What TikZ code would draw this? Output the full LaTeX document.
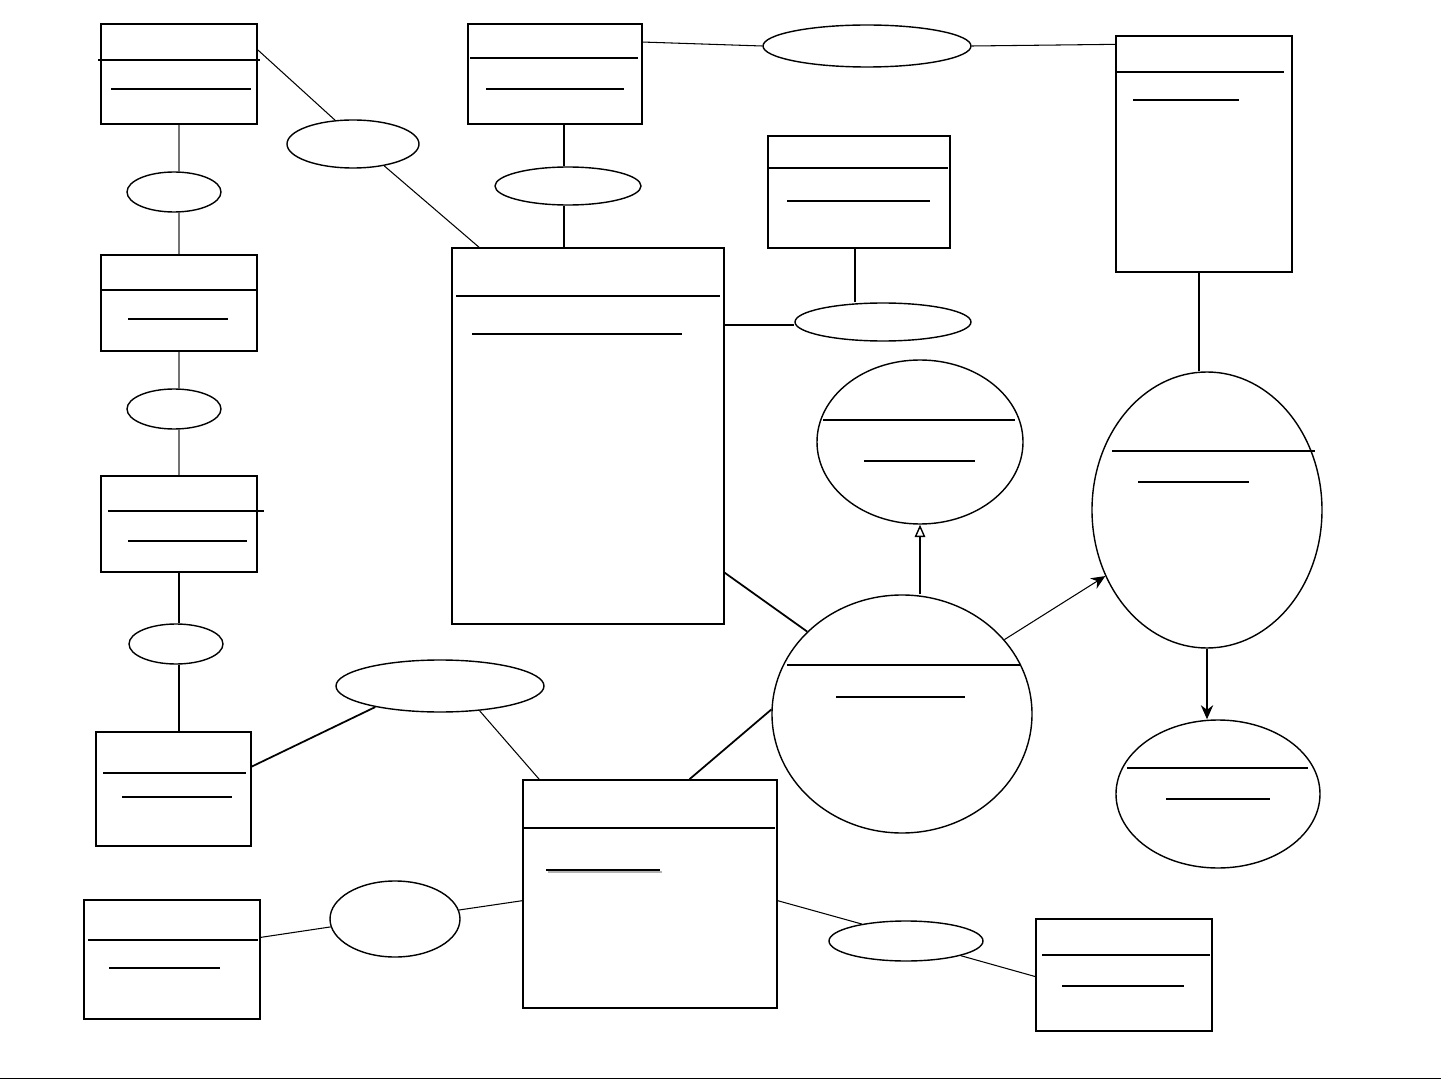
\documentclass[tikz,border=0pt]{standalone}
\usetikzlibrary{shapes.geometric,arrows.meta}

\tikzset{
  ent/.style 2 args={draw, line width=0.9pt, inner sep=0pt,
    minimum width=#1*0.02cm, minimum height=#2*0.02cm},
  rel/.style 2 args={draw, ellipse, line width=0.8pt, inner sep=0pt,
    minimum width=#1*0.02cm, minimum height=#2*0.02cm},
  sepline/.style={line width=1pt},
  keyline/.style={line width=0.7pt},
  link/.style={line width=0.6pt},
  greylink/.style={line width=0.6pt, draw=black!55},
  boldlink/.style={line width=1pt},
  isa/.style={line width=0.6pt, -{Stealth[length=8pt,width=7pt]}}
}

\begin{document}
\begin{tikzpicture}[x=0.02cm,y=-0.02cm]
\useasboundingbox (0,0) rectangle (1441,1081);

% entity boxes
\node[ent={156}{100}] (b1) at (179,74) {};
\node[ent={174}{100}] (b2) at (555,74) {};
\node[ent={182}{112}] (b3) at (859,192) {};
\node[ent={176}{236}] (b4) at (1204,154) {};
\node[ent={156}{96}] (b5) at (179,303) {};
\node[ent={272}{376}] (b6) at (588,436) {};
\node[ent={156}{96}] (b7) at (179,524) {};
\node[ent={155}{114}] (b8) at (173.5,789) {};
\node[ent={176}{119}] (b9) at (172,959.5) {};
\node[ent={254}{228}] (b10) at (650,894) {};
\node[ent={176}{112}] (b11) at (1124,975) {};

% relationship ellipses
\node[rel={94}{40}] (e1) at (174,192) {};
\node[rel={132}{48}] (e2) at (353,144) {};
\node[rel={146}{38}] (e3) at (568,186) {};
\node[rel={208}{42}] (e4) at (867,46) {};
\node[rel={176}{38}] (e5) at (883,322) {};
\node[rel={94}{40}] (e6) at (174,409) {};
\node[rel={94}{40}] (e7) at (176,644) {};
\node[rel={208}{52}] (e8) at (440,686) {};
\node[rel={130}{76}] (e9) at (395,919) {};
\node[rel={154}{40}] (e10) at (906,941) {};

% round entities
\node[rel={206}{164}] (c1) at (920,442) {};
\node[rel={260}{238}] (c2) at (902,714) {};
\node[rel={230}{276}] (c3) at (1207,510) {};
\node[rel={204}{148}] (c4) at (1218,794) {};

% header and key lines
\draw[sepline] (98,60) -- (260,60); % b1
\draw[keyline] (111,89) -- (251,89);
\draw[sepline] (470,58) -- (638,58); % b2
\draw[keyline] (486,89) -- (624,89);
\draw[sepline] (768,168) -- (948,168); % b3
\draw[keyline] (787,201) -- (930,201);
\draw[sepline] (1116,72) -- (1284,72); % b4
\draw[keyline] (1133,100) -- (1239,100);
\draw[sepline] (101,290) -- (257,290); % b5
\draw[keyline] (128,319) -- (228,319);
\draw[sepline] (456,296) -- (720,296); % b6
\draw[sepline] (472,334) -- (682,334);
\draw[sepline] (108,511) -- (264,511); % b7
\draw[sepline] (128,541) -- (247,541);
\draw[sepline] (103,773) -- (246,773); % b8
\draw[keyline] (122,797) -- (232,797);
\draw[sepline] (88,940) -- (258,940); % b9
\draw[sepline] (109,968) -- (220,968);
\draw[sepline] (523,828) -- (775,828); % b10
\draw[black!30, line width=1pt] (548,872) -- (662,872);
\draw[sepline] (546,870) -- (660,870);
\draw[sepline] (1042,955) -- (1210,955); % b11
\draw[sepline] (1062,986) -- (1184,986);
\draw[sepline] (823,420) -- (1015,420); % c1
\draw[keyline] (864,461) -- (975,461);
\draw[sepline] (787,665) -- (1020,665); % c2
\draw[keyline] (836,697) -- (965,697);
\draw[keyline] (1112,451) -- (1315,451); % c3
\draw[sepline] (1138,482) -- (1249,482);
\draw[sepline] (1127,768) -- (1308,768); % c4
\draw[sepline] (1166,799) -- (1270,799);

% left column
\draw[greylink] (b1.south) -- (e1.north -| b1.south);
\draw[greylink] (e1.south -| b5.north) -- (b5.north);
\draw[greylink] (b5.south) -- (e6.north -| b5.south);
\draw[greylink] (e6.south -| b7.north) -- (b7.north);
\draw[boldlink] (b7.south) -- (e7.north -| b7.south);
\draw[boldlink] (e7.south -| b7.south) -- (b8.north -| b7.south);

% top row
\draw[link] (b1.17) -- (e2.127);
\draw[link] (e2.-35) -- (b6.120);
\draw[boldlink] ([xshift=-0.08cm]b2.south -| e3.north) -- ([xshift=-0.08cm]e3.north);
\draw[boldlink] ([xshift=-0.08cm]e3.south) -- ([xshift=-0.08cm]b6.north -| e3.south);
\draw[link] (b2.20) -- (e4.west);
\draw[link] (e4.east) -- (b4.129);
\draw[boldlink] (b6.39) -- (b6.39 -| e5.west);
\draw[link] ([xshift=-0.08cm]e5.north -| b3.south) -- ([xshift=-0.08cm]b3.south);

% bottom row
\draw[boldlink] (b8.16) -- (e8.198);
\draw[link] (e8.-32) -- (b10.134);
\draw[link] (b9.14) -- (e9.187);
\draw[link] (e9.8) -- (b10.183);
\draw[link] (b10.-3) -- (e10.159);
\draw[link] (e10.-15) -- (b11.181);

% links to the round entities
\draw[boldlink] (b6.-45) -- (c2.139);
\draw[boldlink] (b10.71) -- (c2.178);
\draw[line width=0.8pt, -{Triangle[open,length=7pt,width=6pt]}] (c2.north -| c1.south) -- (c1.south);
\draw[isa] (c2.36) -- (c3.213);
\draw[boldlink] ([xshift=-0.1cm]b4.south) -- ([xshift=-0.1cm]b4.south |- c3.north);
\draw[isa, line width=1pt] (c3.south) -- (c3.south |- c4.north);

% bottom rule
\draw[line width=1pt] (0,1078.5) -- (1441,1078.5);
\end{tikzpicture}
\end{document}
